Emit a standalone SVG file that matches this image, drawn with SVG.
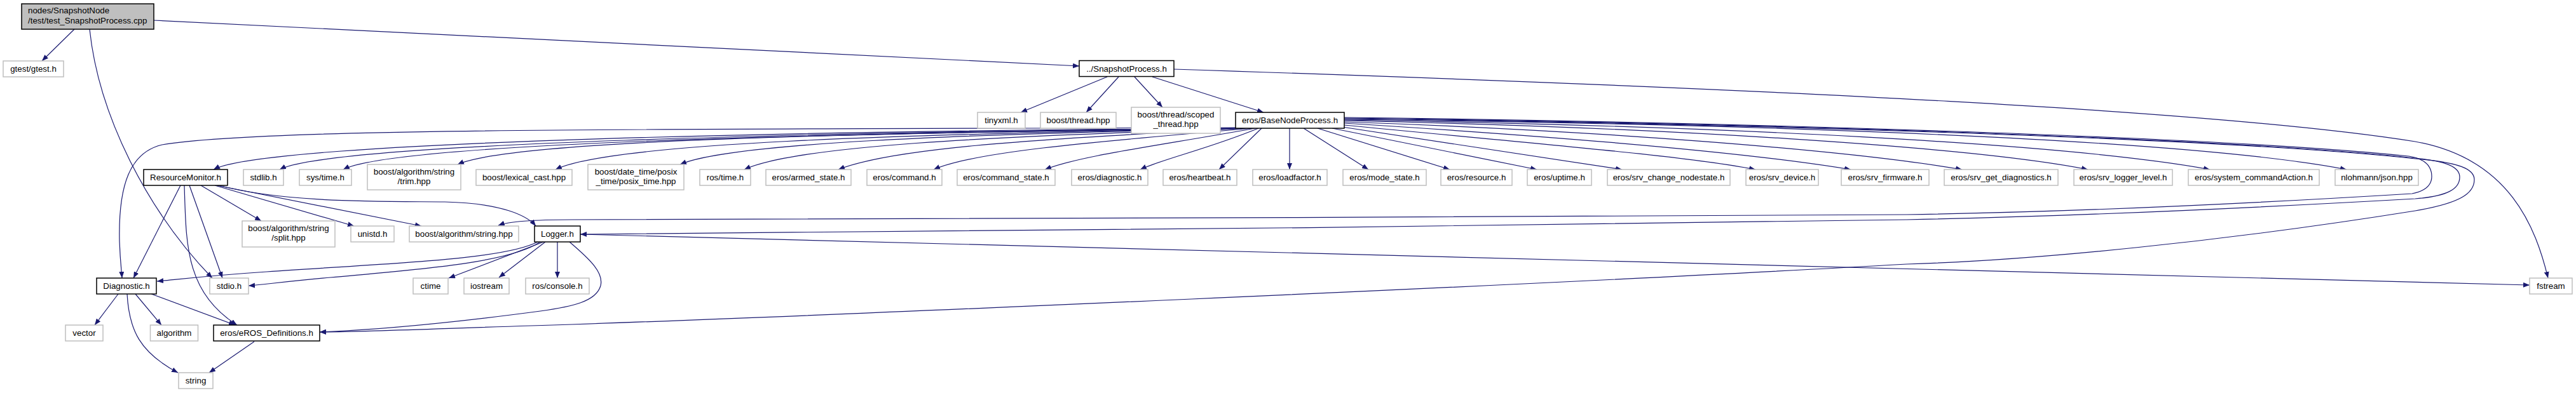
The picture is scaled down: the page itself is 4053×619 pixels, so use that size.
<svg xmlns="http://www.w3.org/2000/svg" width="4053" height="619" viewBox="0 0 4053 619">
<style>
rect{fill:#fff}
.x{stroke:#bfbfbf;stroke-width:1.5}
.p{stroke:#000;stroke-width:1.5}
.r{fill:#bfbfbf;stroke:#000;stroke-width:1.5}
text{font-family:"Liberation Sans",Arial,Helvetica,sans-serif;font-size:13.33px;fill:#000;text-anchor:middle}
text.l{text-anchor:start}
#edges path{fill:none;stroke:#191970;stroke-width:1.2;marker-end:url(#a)}
</style>
<defs>
<marker id="a" markerWidth="10" markerHeight="8" refX="10" refY="4" orient="auto" markerUnits="userSpaceOnUse"><path d="M0,0 L10,4 L0,8 z" fill="#191970"/></marker>
</defs>
<rect width="4053" height="619" fill="#fff"/>
<g id="edges">
<path d="M117,46 L66,96"/>
<path d="M141,46 C155,180 230,330 334,438"/>
<path d="M242,32 L1698,104"/>
<path d="M1742,121 L1606,177"/>
<path d="M1760,121 L1709,177"/>
<path d="M1785,121 L1829,169"/>
<path d="M1813,121 L1988,177"/>
<path d="M1847,109 C2800,140 3500,175 3800,223 C3950,250 3990,360 4009,438"/>
<path d="M1985,202 L1918,267"/>
<path d="M1980,202 C1900,235 1830,250 1794,267"/>
<path d="M1975,202 C1820,230 1700,245 1644,267"/>
<path d="M1970,202 C1700,225 1530,240 1469,267"/>
<path d="M1965,202 C1600,220 1400,235 1319,267"/>
<path d="M1962,202 C1550,215 1250,230 1171,267"/>
<path d="M1960,202 C1500,212 1150,225 1070,259"/>
<path d="M1958,202 C1400,212 960,225 874,267"/>
<path d="M1955,202 C1300,210 800,222 720,259"/>
<path d="M1952,202 C1300,210 620,225 540,267"/>
<path d="M1950,202 C1300,208 520,225 440,267"/>
<path d="M1948,202 C1300,206 420,222 336,267"/>
<path d="M1946,201 C1100,204 420,200 255,228 C205,240 186,290 188,380 C189,410 191,425 192,438"/>
<path d="M2029,202 L2029,267"/>
<path d="M2051,202 L2153,267"/>
<path d="M2073,202 L2281,267"/>
<path d="M2096,202 L2418,267"/>
<path d="M2112,200 L2552,267"/>
<path d="M2115,197 C2400,225 2650,245 2762,267"/>
<path d="M2115,194 C2450,215 2750,240 2912,267"/>
<path d="M2115,192 C2500,205 2900,235 3087,267"/>
<path d="M2115,190 C2600,200 3100,230 3285,267"/>
<path d="M2115,189 C2700,198 3250,225 3477,267"/>
<path d="M2115,188 C2800,196 3450,220 3692,267"/>
<path d="M2115,185 C2700,192 3500,215 3790,246 C3815,250 3826,262 3826,278 C3826,293 3815,301 3795,305 C3550,320 3250,334 3000,338 C2400,342 1400,345 900,346 C840,346 800,349 784,355"/>
<path d="M2115,186 C2700,193 3500,216 3800,249 C3850,254 3870,263 3870,279 C3870,298 3850,309 3800,313 C3500,330 3200,342 3000,346 C2400,356 1400,366 913,369"/>
<path d="M2115,187 C2700,194 3500,217 3800,250 C3870,256 3893,266 3893,283 C3893,305 3870,320 3800,332 C3500,380 3200,410 3000,416 C2400,450 1300,497 900,511 C700,517 600,522 503,523"/>
<path d="M284,292 L210,438"/>
<path d="M290,292 C293,380 290,460 373,512"/>
<path d="M298,292 L350,438"/>
<path d="M316,292 L411,348"/>
<path d="M338,292 L557,356"/>
<path d="M341,292 L663,356"/>
<path d="M344,292 C450,320 600,317 700,318 C790,320 830,340 843,356"/>
<path d="M846,381 C790,410 600,415 420,428 C330,434 280,440 247,443"/>
<path d="M850,381 C800,415 650,425 520,437 C450,443 410,449 391,450"/>
<path d="M855,381 L706,438"/>
<path d="M858,381 L785,437"/>
<path d="M877,381 L877,438"/>
<path d="M896,381 C930,410 950,430 945,450 C938,475 900,483 850,490 C700,510 580,520 503,523"/>
<path d="M913,369 L3980,449"/>
<path d="M186,463 L149,512"/>
<path d="M213,463 L254,512"/>
<path d="M200,463 C203,520 220,555 280,587"/>
<path d="M238,463 L370,512"/>
<path d="M400,538 L329,587"/>
</g>
<g id="n_root"><rect class="r" x="34" y="6" width="208" height="40"/><text class="l" x="44" y="21">nodes/SnapshotNode</text><text class="l" x="44" y="37">/test/test_SnapshotProcess.cpp</text></g>
<g id="n_gtest"><rect class="x" x="5" y="96" width="95" height="25"/><text x="52.5" y="113">gtest/gtest.h</text></g>
<g id="n_sp"><rect class="p" x="1698" y="95.5" width="149" height="25"/><text x="1772.5" y="112.5">../SnapshotProcess.h</text></g>
<g id="n_tinyxml"><rect class="x" x="1538" y="177" width="75" height="25"/><text x="1575.5" y="194">tinyxml.h</text></g>
<g id="n_thread"><rect class="x" x="1637" y="177" width="119" height="25"/><text x="1696.5" y="194">boost/thread.hpp</text></g>
<g id="n_scoped"><rect class="x" x="1780" y="169" width="140" height="41"/><text x="1850" y="185">boost/thread/scoped</text><text x="1850" y="200">_thread.hpp</text></g>
<g id="n_bnp"><rect class="p" x="1944" y="177" width="171" height="25"/><text x="2029.5" y="194">eros/BaseNodeProcess.h</text></g>
<g id="n_rm"><rect class="p" x="226" y="267" width="132" height="25"/><text x="292" y="284">ResourceMonitor.h</text></g>
<g id="n_stdlib"><rect class="x" x="383" y="267" width="63" height="25"/><text x="414.5" y="284">stdlib.h</text></g>
<g id="n_systime"><rect class="x" x="471" y="267" width="82" height="25"/><text x="512" y="284">sys/time.h</text></g>
<g id="n_trim"><rect class="x" x="578" y="259" width="147" height="40"/><text x="651.5" y="275">boost/algorithm/string</text><text x="651.5" y="290">/trim.hpp</text></g>
<g id="n_lexical"><rect class="x" x="749" y="267" width="151" height="25"/><text x="824.5" y="284">boost/lexical_cast.hpp</text></g>
<g id="n_posix"><rect class="x" x="925" y="259" width="151" height="40"/><text x="1000.5" y="275">boost/date_time/posix</text><text x="1000.5" y="290">_time/posix_time.hpp</text></g>
<g id="n_rostime"><rect class="x" x="1101" y="267" width="80" height="25"/><text x="1141" y="284">ros/time.h</text></g>
<g id="n_armed"><rect class="x" x="1205" y="267" width="134" height="25"/><text x="1272" y="284">eros/armed_state.h</text></g>
<g id="n_command"><rect class="x" x="1364" y="267" width="118" height="25"/><text x="1423" y="284">eros/command.h</text></g>
<g id="n_cmdstate"><rect class="x" x="1506" y="267" width="154" height="25"/><text x="1583" y="284">eros/command_state.h</text></g>
<g id="n_diagnostic"><rect class="x" x="1686" y="267" width="120" height="25"/><text x="1746" y="284">eros/diagnostic.h</text></g>
<g id="n_heartbeat"><rect class="x" x="1830" y="267" width="116" height="25"/><text x="1888" y="284">eros/heartbeat.h</text></g>
<g id="n_loadfactor"><rect class="x" x="1971" y="267" width="117" height="25"/><text x="2029.5" y="284">eros/loadfactor.h</text></g>
<g id="n_mode"><rect class="x" x="2113" y="267" width="131" height="25"/><text x="2178.5" y="284">eros/mode_state.h</text></g>
<g id="n_resource"><rect class="x" x="2267" y="267" width="112" height="25"/><text x="2323" y="284">eros/resource.h</text></g>
<g id="n_uptime"><rect class="x" x="2403" y="267" width="101" height="25"/><text x="2453.5" y="284">eros/uptime.h</text></g>
<g id="n_change"><rect class="x" x="2529" y="267" width="193" height="25"/><text x="2625.5" y="284">eros/srv_change_nodestate.h</text></g>
<g id="n_device"><rect class="x" x="2747" y="267" width="114" height="25"/><text x="2804" y="284">eros/srv_device.h</text></g>
<g id="n_firmware"><rect class="x" x="2897" y="267" width="138" height="25"/><text x="2966" y="284">eros/srv_firmware.h</text></g>
<g id="n_getdiag"><rect class="x" x="3059" y="267" width="179" height="25"/><text x="3148.5" y="284">eros/srv_get_diagnostics.h</text></g>
<g id="n_logger_level"><rect class="x" x="3263" y="267" width="155" height="25"/><text x="3340.5" y="284">eros/srv_logger_level.h</text></g>
<g id="n_syscmd"><rect class="x" x="3443" y="267" width="206" height="25"/><text x="3546" y="284">eros/system_commandAction.h</text></g>
<g id="n_json"><rect class="x" x="3674" y="267" width="131" height="25"/><text x="3739.5" y="284">nlohmann/json.hpp</text></g>
<g id="n_split"><rect class="x" x="381" y="348" width="146" height="41"/><text x="454" y="364">boost/algorithm/string</text><text x="454" y="379">/split.hpp</text></g>
<g id="n_unistd"><rect class="x" x="552" y="356" width="68" height="25"/><text x="586" y="373">unistd.h</text></g>
<g id="n_stringhpp"><rect class="x" x="644" y="356" width="172" height="25"/><text x="730" y="373">boost/algorithm/string.hpp</text></g>
<g id="n_logger"><rect class="p" x="841" y="356" width="72" height="25"/><text x="877" y="373">Logger.h</text></g>
<g id="n_diag"><rect class="p" x="152" y="438" width="94" height="25"/><text x="199" y="455">Diagnostic.h</text></g>
<g id="n_stdio"><rect class="x" x="330" y="438" width="61" height="25"/><text x="360.5" y="455">stdio.h</text></g>
<g id="n_ctime"><rect class="x" x="650" y="438" width="55" height="25"/><text x="677.5" y="455">ctime</text></g>
<g id="n_iostream"><rect class="x" x="730" y="438" width="71" height="25"/><text x="765.5" y="455">iostream</text></g>
<g id="n_console"><rect class="x" x="827" y="438" width="100" height="25"/><text x="877" y="455">ros/console.h</text></g>
<g id="n_fstream"><rect class="x" x="3980" y="438" width="67" height="25"/><text x="4013.5" y="455">fstream</text></g>
<g id="n_vector"><rect class="x" x="103" y="512" width="59" height="25"/><text x="132.5" y="529">vector</text></g>
<g id="n_algorithm"><rect class="x" x="236.5" y="512" width="75" height="25"/><text x="274" y="529">algorithm</text></g>
<g id="n_eros_def"><rect class="p" x="336" y="512" width="167" height="25"/><text x="419.5" y="529">eros/eROS_Definitions.h</text></g>
<g id="n_string"><rect class="x" x="281" y="587" width="54" height="25"/><text x="308" y="604">string</text></g>
</svg>
